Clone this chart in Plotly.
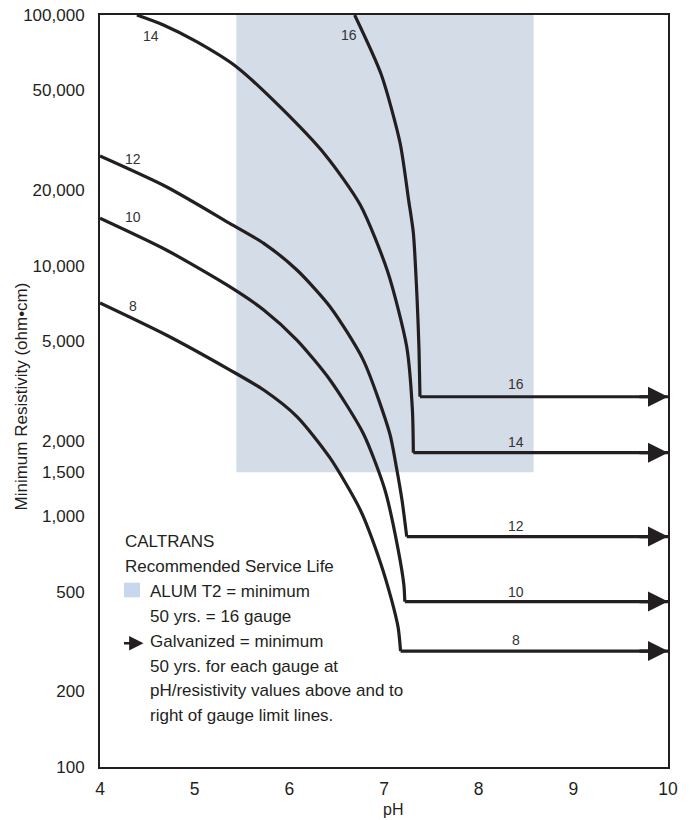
import numpy as np
import plotly.graph_objects as go

# ---------------- data ----------------
ph_ticks = [4, 5, 6, 7, 8, 9, 10]
res_ticks = [100, 200, 500, 1000, 1500, 2000, 5000, 10000, 20000, 50000, 100000]
res_tick_labels = ["100", "200", "500", "1,000", "1,500", "2,000", "5,000",
                   "10,000", "20,000", "50,000", "100,000"]

gauge_names = ["8", "10", "12", "14", "16"]

ph_g8 = [4.0, 4.70, 5.37, 5.73, 6.08, 6.43, 6.75, 6.96, 7.08, 7.15, 7.175]
res_g8 = [7100, 5290, 3840, 3190, 2500, 1710, 1060, 658, 464, 359, 290]

ph_g10 = [4.0, 4.70, 5.37, 5.73, 6.08, 6.43, 6.78, 7.01, 7.15, 7.21, 7.22]
res_g10 = [15460, 11550, 8245, 6660, 5050, 3500, 2145, 1274, 735, 532, 457]

ph_g12 = [4.0, 4.70, 5.37, 5.73, 6.08, 6.43, 6.78, 7.06, 7.13, 7.19, 7.24]
res_g12 = [27380, 20650, 14760, 12280, 9610, 6860, 4210, 2145, 1578, 1162, 830]

ph_g14 = [4.39, 4.67, 5.02, 5.44, 5.90, 6.38, 6.75, 7.04, 7.24, 7.30, 7.31]
res_g14 = [100000, 91240, 78260, 62200, 43070, 27660, 17460, 9440, 4750, 2655, 1795]

ph_g16 = [6.69, 6.97, 7.17, 7.26, 7.31, 7.35, 7.37, 7.38]
res_g16 = [100000, 58000, 30860, 18280, 13500, 7300, 4610, 3000]

# horizontal limit lines run to pH 10
limit_end_ph = 10

# ALUM T2 shaded region (pH range, resistivity range)
alum_ph = [5.44, 8.58]
alum_res = [1500, 100000]

# curve label positions
start_label_ph = [4.35, 4.35, 4.35, 4.54, 6.63]
start_label_res = [6905, 15570, 26650, 82800, 83600]
end_label_ph = [8.39, 8.39, 8.39, 8.39, 8.39]
end_label_res = [320, 501, 917, 1986, 3375]

legend_lines = ["CALTRANS", "Recommended Service Life", "ALUM T2 = minimum",
                "50 yrs. = 16 gauge", "Galvanized = minimum",
                "50 yrs. for each gauge at",
                "pH/resistivity values above and to",
                "right of gauge limit lines."]

# ---------------- figure ----------------
INK = "#231f20"
FONT = "Liberation Sans, Arial, sans-serif"

curves_ph = [ph_g8, ph_g10, ph_g12, ph_g14, ph_g16]
curves_res = [res_g8, res_g10, res_g12, res_g14, res_g16]

fig = go.Figure()

# shaded ALUM T2 region
fig.add_trace(go.Scatter(
    x=[alum_ph[0], alum_ph[1], alum_ph[1], alum_ph[0], alum_ph[0]],
    y=[alum_res[0], alum_res[0], alum_res[1], alum_res[1], alum_res[0]],
    fill="toself", fillcolor="rgb(211,220,231)", mode="none",
    hoverinfo="skip", showlegend=False))

for name, xs, ys in zip(gauge_names, curves_ph, curves_res):
    fig.add_trace(go.Scatter(
        x=xs, y=ys, mode="lines", name=name,
        line=dict(color=INK, width=3.2, shape="spline", smoothing=0.7),
        showlegend=False))
    fig.add_trace(go.Scatter(
        x=[xs[-1], limit_end_ph], y=[ys[-1], ys[-1]], mode="lines",
        line=dict(color=INK, width=3.2), showlegend=False, hoverinfo="skip"))

annotations = []
for xs, ys in zip(curves_ph, curves_res):
    annotations.append(dict(
        x=limit_end_ph, y=np.log10(ys[-1]), xref="x", yref="y",
        ax=-30, ay=0, text="", showarrow=True, arrowhead=2,
        arrowsize=1.25, arrowwidth=3.2, arrowcolor=INK))

for name, lx, ly in zip(gauge_names, start_label_ph, start_label_res):
    annotations.append(dict(x=lx, y=np.log10(ly), xref="x", yref="y",
                            text=name, showarrow=False,
                            font=dict(size=14, color="#333", family=FONT)))
for name, lx, ly in zip(gauge_names, end_label_ph, end_label_res):
    annotations.append(dict(x=lx, y=np.log10(ly), xref="x", yref="y",
                            text=name, showarrow=False,
                            font=dict(size=14, color="#333", family=FONT)))

# page offset: the html body adds an 8px margin around the figure
OFF = 8
PL, PT, PW, PH = 100, 15, 568, 752   # plot area in page pixels
def px(xp):
    return (xp - PL) / PW
def py(yp):
    return 1 - (yp - PT) / PH

leg_x = [123, 123, 148, 148, 148, 148, 148, 148]
leg_y = [541.7, 566, 591, 616, 641, 666, 690.7, 715]
for t, lx, ly in zip(legend_lines, leg_x, leg_y):
    annotations.append(dict(x=px(lx), y=py(ly), xref="paper", yref="paper",
                            text=t, showarrow=False, xanchor="left",
                            yanchor="middle",
                            font=dict(size=17, color=INK, family=FONT)))

# legend arrow
annotations.append(dict(x=px(143.5), y=py(643.3), xref="paper", yref="paper",
                        ax=-21, ay=0, text="", showarrow=True, arrowhead=2,
                        arrowsize=1.2, arrowwidth=2.4, arrowcolor=INK))

# axis titles
annotations.append(dict(x=px(20.5), y=py(397), xref="paper", yref="paper",
                        text="Minimum Resistivity (ohm•cm)", textangle=-90,
                        showarrow=False, xanchor="center", yanchor="middle",
                        font=dict(size=17, color=INK, family=FONT)))
annotations.append(dict(x=px(393), y=py(809), xref="paper", yref="paper",
                        text="pH", showarrow=False, xanchor="center",
                        yanchor="middle",
                        font=dict(size=16, color=INK, family=FONT)))

shapes = [dict(type="rect", xref="paper", yref="paper",
               x0=px(124), x1=px(140), y0=py(597.3), y1=py(582.7),
               fillcolor="rgb(198,215,238)", line=dict(width=0))]

fig.update_layout(
    width=690 - OFF, height=820 - OFF,
    margin=dict(l=PL - OFF, r=690 - (PL + PW), t=PT - OFF,
                b=820 - (PT + PH), autoexpand=False),
    paper_bgcolor="white", plot_bgcolor="white",
    font=dict(family=FONT, color=INK),
    annotations=annotations, shapes=shapes,
    showlegend=False,
)
fig.update_xaxes(range=[4, 10], tickvals=ph_ticks, showgrid=False,
                 zeroline=False, showline=True, mirror=True, linecolor=INK,
                 linewidth=2, ticks="", ticklabelstandoff=5, automargin=False,
                 ticklabeloverflow="allow",
                 tickfont=dict(size=17.5, color=INK, family=FONT))
fig.update_yaxes(type="log", range=[2, 5], tickvals=res_ticks,
                 ticktext=res_tick_labels, showgrid=False, zeroline=False,
                 showline=True, mirror=True, linecolor=INK, linewidth=2,
                 ticks="", ticklabelstandoff=10, automargin=False,
                 ticklabeloverflow="allow",
                 tickfont=dict(size=17, color=INK, family=FONT))

fig.write_html("out.html")
